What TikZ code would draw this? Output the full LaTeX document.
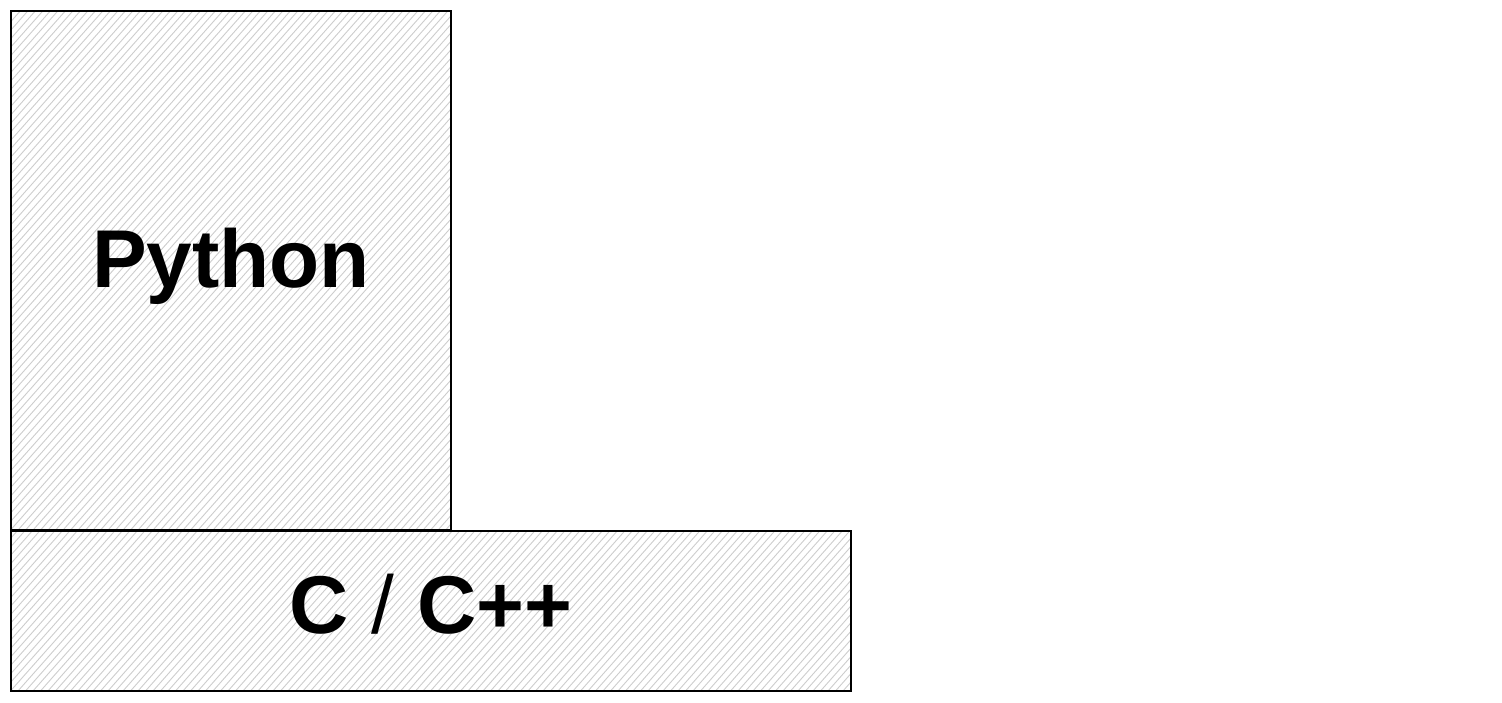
\documentclass[tikz,border=0pt]{standalone}
\usepackage{fontspec}
\setmainfont{Liberation Sans}
\definecolor{hatchgray}{RGB}{205,205,205}
\tikzset{
  box/.style={draw=black, line width=1pt},
  hatch/.style={draw=hatchgray, line width=0.45pt},
  label/.style={font=\fontsize{41}{49}\selectfont\bfseries, text=black}
}
\begin{document}
\begin{tikzpicture}[x=0.5pt,y=-0.5pt]
\useasboundingbox (0,0) rectangle (1502,702);
% Python box hatching
\begin{scope}
  \clip (11,11) rectangle (451,530);
  \foreach \c in {0,7.5,...,1200} { \draw[hatch] (\c,0) -- ++(-620,700); }
\end{scope}
% C/C++ box hatching
\begin{scope}
  \clip (11,531) rectangle (851,691);
  \foreach \c in {0,7.5,...,1560} { \draw[hatch] (\c,0) -- ++(-620,700); }
\end{scope}
\draw[box] (11,11) rectangle (451,530);
\draw[box] (11,531) rectangle (851,691);
\node[label] (py) at (231,266) {Python};
\node[label] (cc) at (431,604) {C {\mdseries/} C++};
\end{tikzpicture}
\end{document}
